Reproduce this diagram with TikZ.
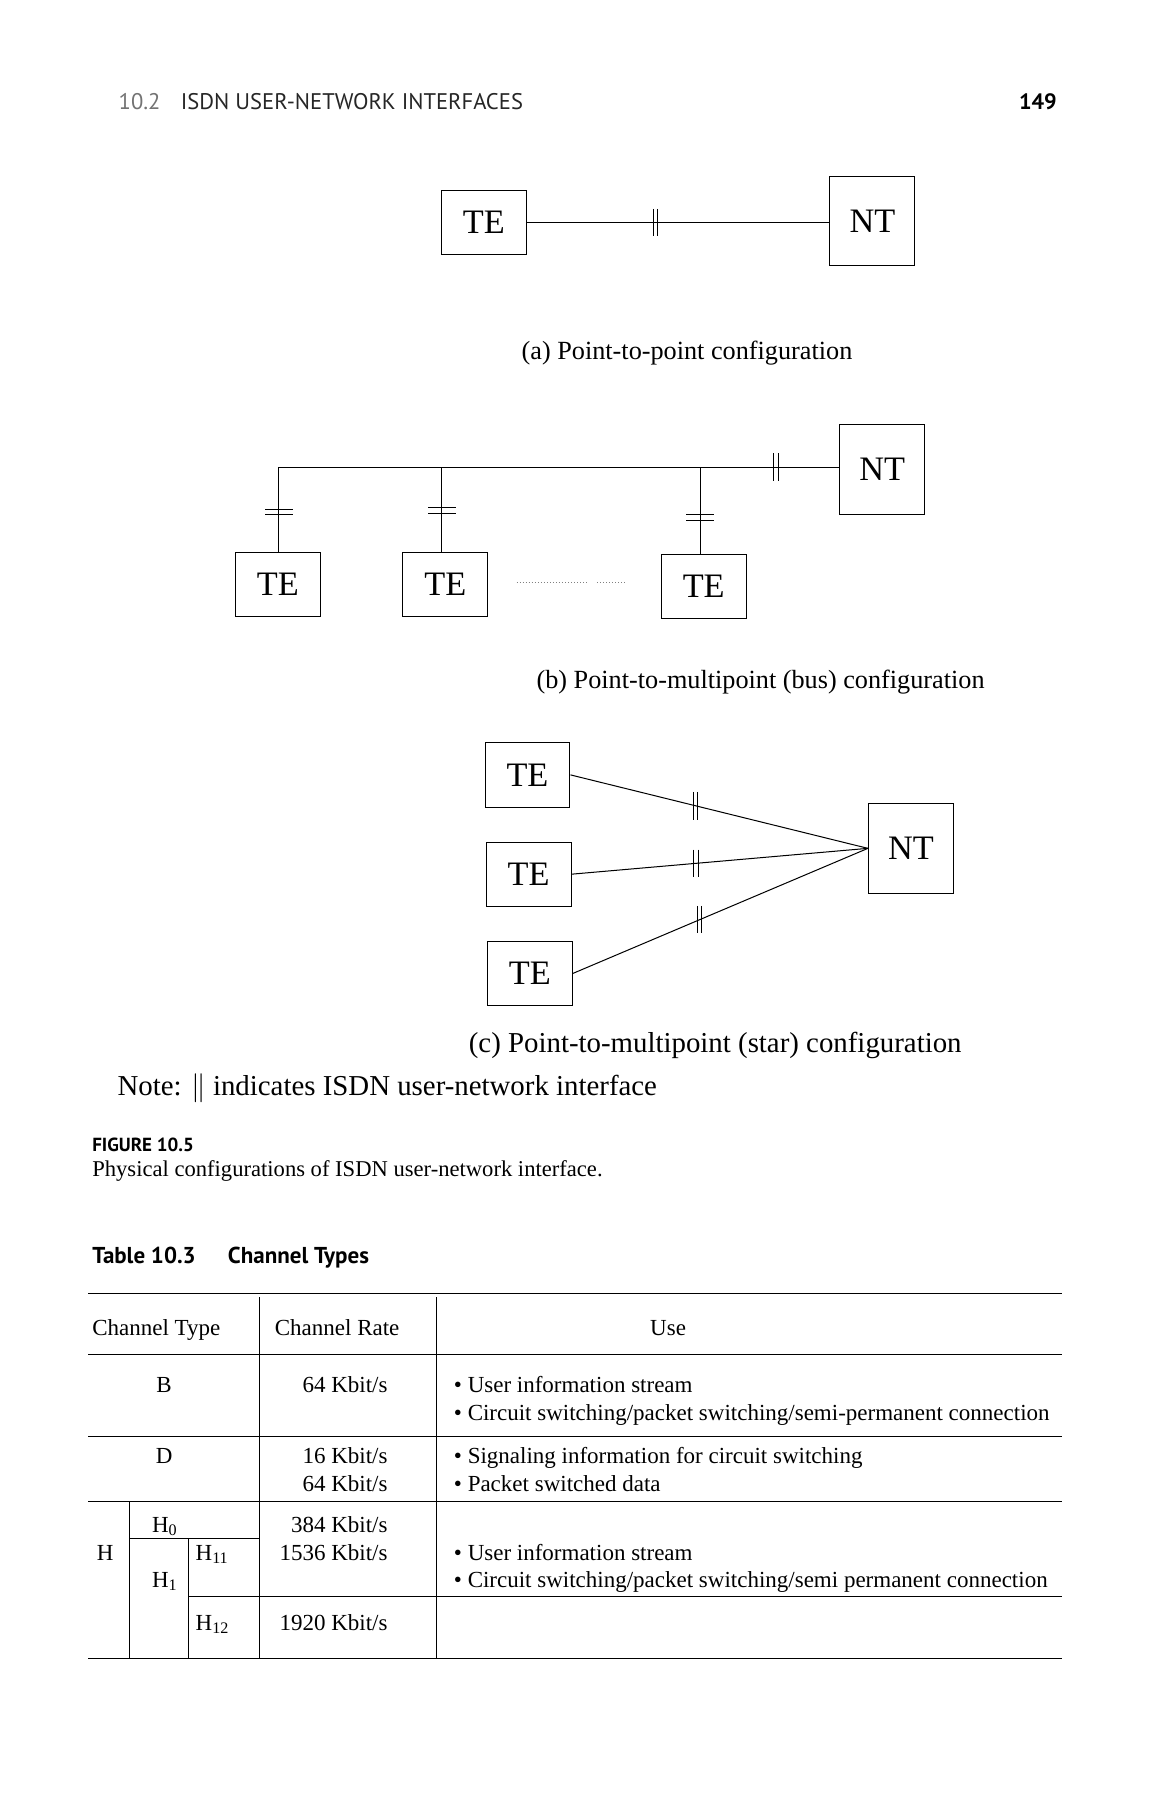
\documentclass[tikz,border=0pt]{standalone}
\usepackage{fontspec}
\setmainfont{Liberation Serif}
\setsansfont{PT Sans}
\usetikzlibrary{positioning}

\tikzset{
  unitbox/.style={draw,line width=0.5pt,minimum width=1.48cm,minimum height=1.12cm,inner sep=0pt,font=\fontsize{17}{19}\selectfont},
  ntbox/.style={unitbox,minimum height=1.56cm},
  figcap/.style={anchor=base west,inner sep=0pt,font=\fontsize{13}{15}\selectfont},
  cell/.style={inner sep=0pt,font=\fontsize{11.4}{13}\selectfont},
  vtick/.pic={\draw (-2,-12) -- (-2,12) (2,-12) -- (2,12);},
  htick/.pic={\draw (-12,-2.5) -- (12,-2.5) (-12,2.5) -- (12,2.5);},
}

\begin{document}
\begin{tikzpicture}[x=0.2mm,y=-0.2mm,line width=0.5pt]
\useasboundingbox (0,0) rectangle (1003,1568);
% running head
\node[anchor=base west,inner sep=0pt,font=\sffamily\fontsize{11.2}{13}\selectfont,black!85] (runhead) at (103,95) {\textcolor{black!55}{10.2}\hspace{0.9em}ISDN USER-NETWORK INTERFACES};
\node[anchor=base east,inner sep=0pt,font=\sffamily\bfseries\fontsize{11}{12}\selectfont] (pageno) at (921,95) {149};

% (a) point-to-point
\node[unitbox] (a-te) at (421.5,194) {TE};
\node[ntbox] (a-nt) at (760,192.5) {NT};
\draw (a-te.east) -- (a-te.east -| a-nt.west);
\pic at (571,194) {vtick};
\node[figcap] (a-cap) at (454,313) {(a) Point-to-point configuration};

% (b) bus
\node[unitbox] (b-te1) at (242,509) {TE};
\node[unitbox] (b-te2) at (388,509) {TE};
\node[unitbox] (b-te3) at (613,511) {TE};
\node[ntbox] (b-nt) at (768.5,409) {NT};
\coordinate (bus) at (243,407);
\draw (bus |- b-te1.north) -- (bus) -- (bus -| b-nt.west);
\draw (385,407) -- (385,481);
\draw (610,407) -- (610,483);
\pic at (243,446) {htick};
\pic at (385,445) {htick};
\pic at (610,451) {htick};
\pic at (676,407) {vtick};
\draw[gray,densely dotted] (450,507) -- (512,507) (520,507) -- (545,507);
\node[figcap] (b-cap) at (467,600) {(b) Point-to-multipoint (bus) configuration};

% (c) star
\node[unitbox] (c-te1) at (459.5,675) {TE};
\node[unitbox] (c-te2) at (460.5,761.5) {TE};
\node[unitbox] (c-te3) at (461.5,848) {TE};
\node[ntbox] (c-nt) at (793.5,739) {NT};
\draw (c-te1.east) -- (c-nt.west) coordinate[pos=0.42] (t1);
\draw (c-te2.east) -- (c-nt.west) coordinate[pos=0.42] (t2);
\draw (c-te3.east) -- (c-nt.west) coordinate[pos=0.43] (t3);
\pic at (t1) {vtick};
\pic at (t2) {vtick};
\pic at (t3) {vtick};
\node[figcap,font=\fontsize{14.3}{16}\selectfont] (c-cap) at (408,917) {(c) Point-to-multipoint (star) configuration};

\node[anchor=base west,inner sep=0pt,font=\fontsize{14.3}{16}\selectfont] (note) at (102,954) {Note: $\|$ indicates ISDN user-network interface};

% caption
\node[anchor=base west,inner sep=0pt,font=\sffamily\bfseries\fontsize{9.4}{12}\selectfont] (fignum) at (80,1003) {FIGURE 10.5};
\node[anchor=base west,cell,font=\fontsize{11.2}{13}\selectfont] (figtext) at (80,1025) {Physical configurations of ISDN user-network interface.};
\node[anchor=base west,inner sep=0pt,font=\sffamily\bfseries\fontsize{11.4}{13}\selectfont] (tabnum) at (80,1101) {Table 10.3\hspace{1.4em}Channel Types};

% table rules
\draw (77,1127) -- (925,1127);
\draw (77,1180) -- (925,1180);
\draw (77,1251) -- (925,1251);
\draw (77,1308) -- (925,1308);
\draw (77,1445) -- (925,1445);
\draw (164,1391) -- (925,1391);
\draw (113,1340) -- (226,1340);
\draw (226,1130) -- (226,1445);
\draw (380,1130) -- (380,1445);
\draw (113,1308) -- (113,1445);
\draw (164,1340) -- (164,1445);

% table text
\node[cell,anchor=base west] (h-type) at (80,1163) {Channel Type};
\node[cell,anchor=base west] (h-rate) at (239,1163) {Channel Rate};
\node[cell,anchor=base] (h-use) at (582,1163) {Use};

\node[cell,anchor=base] (b-type) at (143,1213) {B};
\node[cell,anchor=base east] (b-rate) at (338,1213) {64 Kbit/s};
\node[cell,anchor=base west] (b-use1) at (395,1213) {• User information stream};
\node[cell,anchor=base west] (b-use2) at (395,1237) {• Circuit switching/packet switching/semi-permanent connection};

\node[cell,anchor=base] (d-type) at (143,1275) {D};
\node[cell,anchor=base east] (d-rate1) at (338,1275) {16 Kbit/s};
\node[cell,anchor=base east] (d-rate2) at (338,1299) {64 Kbit/s};
\node[cell,anchor=base west] (d-use1) at (395,1275) {• Signaling information for circuit switching};
\node[cell,anchor=base west] (d-use2) at (395,1299) {• Packet switched data};

\node[cell,anchor=base west] (h0-type) at (132,1335) {H\textsubscript{0}};
\node[cell,anchor=base east] (h0-rate) at (338,1335) {384 Kbit/s};
\node[cell,anchor=base west] (hh-type) at (84,1359) {H};
\node[cell,anchor=base west] (h11-type) at (170,1359) {H\textsubscript{11}};
\node[cell,anchor=base east] (h11-rate) at (338,1359) {1536 Kbit/s};
\node[cell,anchor=base west] (h-use1) at (395,1359) {• User information stream};
\node[cell,anchor=base west] (h1-type) at (132,1383) {H\textsubscript{1}};
\node[cell,anchor=base west] (h-use2) at (395,1383) {• Circuit switching/packet switching/semi permanent connection};
\node[cell,anchor=base west] (h12-type) at (170,1420) {H\textsubscript{12}};
\node[cell,anchor=base east] (h12-rate) at (338,1420) {1920 Kbit/s};
\end{tikzpicture}
\end{document}
